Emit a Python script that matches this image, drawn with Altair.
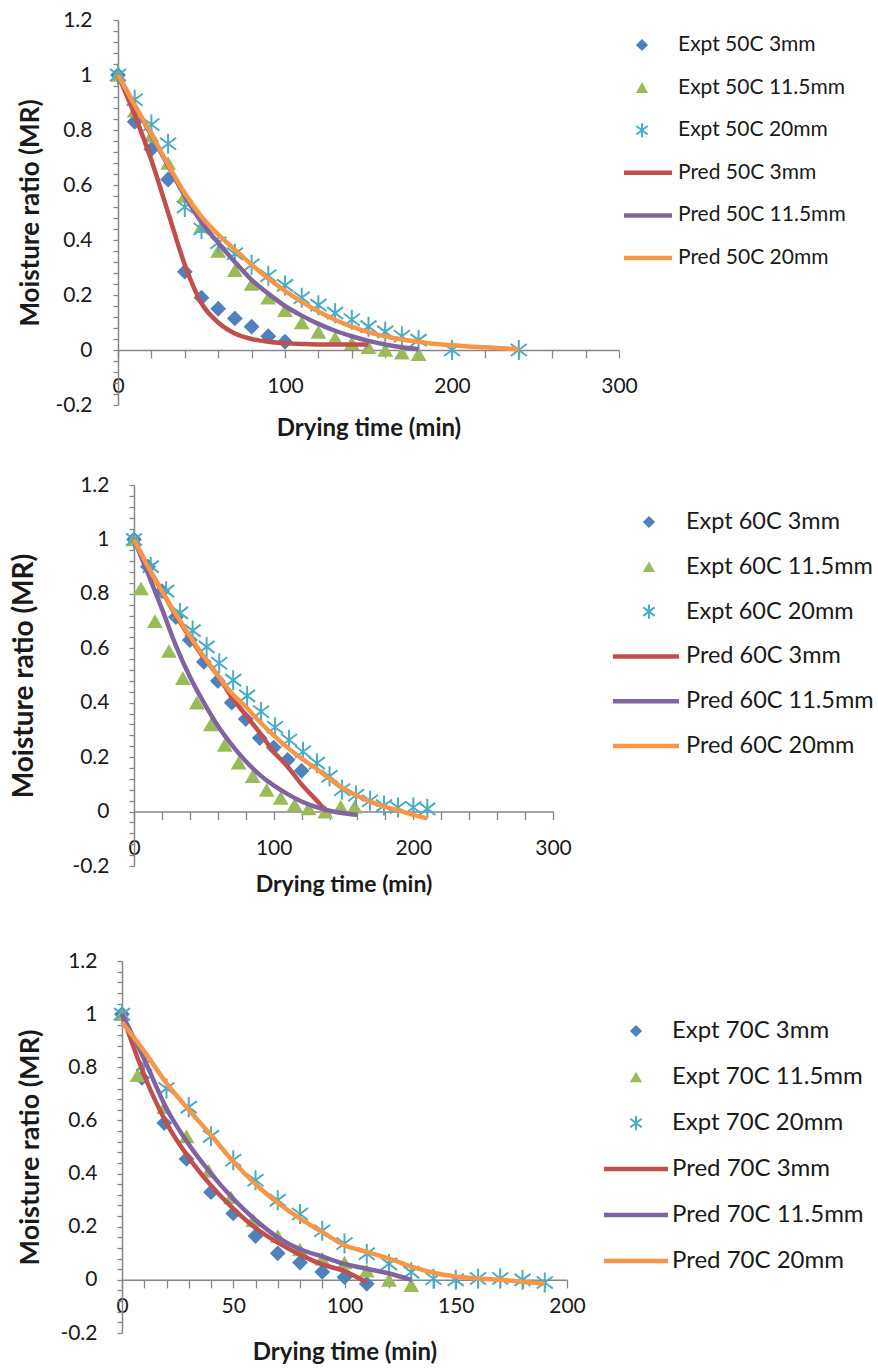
import altair as alt
import pandas as pd

FONT = "Lato"
TEXT = "#1a1a1a"
AXIS = "#868686"
C_BLUE = "#4F81BD"
C_GREEN = "#9BBB59"
C_AQUA = "#4BACC6"
C_RED = "#C0504D"
C_PURPLE = "#8064A2"
C_ORANGE = "#F79646"
ASTERISK = "M0,-1L0,1M-0.8,-0.6L0.8,0.6M-0.8,0.6L0.8,-0.6"

# ---------------- 50C ----------------
E50_3_T = [0, 10, 20, 30, 40, 50, 60, 70, 80, 90, 100]
E50_3_MR = [1.0, 0.83, 0.73, 0.62, 0.285, 0.19, 0.15, 0.115, 0.085, 0.05, 0.03]
E50_115_T = [0, 10, 20, 30, 40, 50, 60, 70, 80, 90, 100, 110, 120, 130, 140, 150, 160, 170, 180]
E50_115_MR = [1.0, 0.87, 0.78, 0.68, 0.56, 0.45, 0.36, 0.29, 0.24, 0.19, 0.145, 0.10, 0.066, 0.043,
              0.025, 0.01, 0.0, -0.01, -0.015]
E50_20_T = [0, 10, 20, 30, 40, 50, 60, 70, 80, 90, 100, 110, 120, 130, 140, 150, 160, 170, 180, 200, 240]
E50_20_MR = [1.0, 0.91, 0.82, 0.75, 0.52, 0.44, 0.39, 0.35, 0.31, 0.27, 0.235, 0.19, 0.163, 0.134, 0.11,
             0.085, 0.066, 0.05, 0.036, 0.0, 0.0]
P50_3_T = [0, 10, 20, 30, 40, 50, 60, 70, 80, 90, 100, 110, 120, 130, 140, 150]
P50_3_MR = [1.0, 0.855, 0.69, 0.50, 0.31, 0.17, 0.10, 0.06, 0.04, 0.03, 0.025, 0.022, 0.02, 0.02, 0.02, 0.02]
P50_115_T = [0, 10, 20, 30, 40, 50, 60, 70, 80, 90, 100, 110, 120, 130, 140, 150, 160, 170, 180]
P50_115_MR = [1.0, 0.89, 0.78, 0.67, 0.56, 0.465, 0.39, 0.32, 0.255, 0.205, 0.16, 0.125, 0.095, 0.07,
              0.05, 0.033, 0.02, 0.01, 0.003]
P50_20_T = [0, 10, 20, 30, 40, 50, 60, 70, 80, 90, 100, 110, 120, 130, 140, 150, 160, 170, 180, 190,
            200, 210, 220, 230, 240]
P50_20_MR = [1.0, 0.89, 0.785, 0.675, 0.57, 0.485, 0.42, 0.365, 0.31, 0.26, 0.215, 0.175, 0.14, 0.11,
             0.085, 0.065, 0.05, 0.038, 0.03, 0.022, 0.018, 0.013, 0.01, 0.006, 0.003]

# ---------------- 60C ----------------
E60_3_T = [0, 10, 20, 30, 40, 50, 60, 70, 80, 90, 100, 110, 120]
E60_3_MR = [1.0, 0.90, 0.81, 0.715, 0.63, 0.55, 0.48, 0.40, 0.34, 0.27, 0.235, 0.19, 0.15]
E60_115_T = [0, 5, 15, 25, 35, 45, 55, 65, 75, 85, 95, 105, 115, 125, 137, 148, 158]
E60_115_MR = [1.0, 0.82, 0.70, 0.59, 0.49, 0.40, 0.32, 0.245, 0.18, 0.13, 0.08, 0.05, 0.025, 0.012,
              0.0, 0.018, 0.018]
E60_20_T = [0, 12, 23, 33, 42, 52, 61, 71, 81, 91, 101, 111, 121, 131, 140, 149, 159, 169, 179, 189, 200, 210]
E60_20_MR = [1.0, 0.90, 0.81, 0.73, 0.665, 0.605, 0.545, 0.483, 0.425, 0.367, 0.31, 0.263, 0.22, 0.178,
             0.13, 0.08, 0.06, 0.04, 0.022, 0.015, 0.015, 0.01]
P60_3_T = [0, 10, 20, 30, 40, 50, 60, 70, 80, 90, 100, 110, 120, 130, 138]
P60_3_MR = [1.0, 0.90, 0.81, 0.72, 0.64, 0.565, 0.50, 0.42, 0.355, 0.29, 0.22, 0.165, 0.10, 0.045, 0.0]
P60_115_T = [0, 10, 20, 30, 40, 50, 60, 70, 80, 90, 100, 110, 120, 130, 140, 150, 160]
P60_115_MR = [1.0, 0.875, 0.745, 0.61, 0.495, 0.40, 0.315, 0.245, 0.185, 0.135, 0.096, 0.064, 0.037,
              0.017, 0.003, -0.006, -0.012]
P60_20_T = [0, 10, 20, 30, 40, 50, 60, 70, 80, 90, 100, 110, 120, 130, 140, 150, 160, 170, 180, 190, 200, 210]
P60_20_MR = [1.0, 0.90, 0.81, 0.725, 0.645, 0.57, 0.50, 0.435, 0.385, 0.33, 0.28, 0.235, 0.195, 0.16,
             0.12, 0.085, 0.057, 0.035, 0.017, 0.003, -0.012, -0.025]

# ---------------- 70C ----------------
E70_3_T = [0, 9, 19, 29, 40, 50, 60, 70, 80, 90, 100, 110]
E70_3_MR = [1.0, 0.76, 0.59, 0.455, 0.33, 0.25, 0.165, 0.10, 0.065, 0.03, 0.01, -0.015]
E70_115_T = [0, 7, 19, 29, 39, 49, 59, 70, 80, 90, 100, 110, 120, 130]
E70_115_MR = [1.0, 0.77, 0.65, 0.54, 0.41, 0.31, 0.225, 0.165, 0.115, 0.08, 0.065, 0.035, 0.0, -0.02]
E70_20_T = [0, 10, 20, 30, 40, 50, 60, 70, 80, 90, 100, 110, 120, 130, 140, 150, 160, 170, 180, 190]
E70_20_MR = [1.0, 0.81, 0.72, 0.65, 0.54, 0.45, 0.375, 0.30, 0.248, 0.185, 0.137, 0.098, 0.06, 0.029,
             0.004, 0.0, 0.005, 0.005, 0.0, -0.01]
P70_3_T = [0, 10, 20, 30, 40, 50, 60, 70, 80, 90, 100, 110]
P70_3_MR = [1.0, 0.77, 0.59, 0.46, 0.355, 0.268, 0.195, 0.14, 0.095, 0.058, 0.033, -0.01]
P70_115_T = [0, 10, 20, 30, 40, 50, 60, 70, 80, 90, 100, 110, 120, 130]
P70_115_MR = [1.0, 0.83, 0.645, 0.51, 0.40, 0.305, 0.225, 0.16, 0.115, 0.088, 0.06, 0.042, 0.024, 0.0]
P70_20_T = [0, 10, 20, 30, 40, 50, 60, 70, 80, 90, 100, 110, 120, 130, 140, 150, 160, 170, 180, 190]
P70_20_MR = [0.97, 0.86, 0.74, 0.64, 0.545, 0.445, 0.36, 0.29, 0.23, 0.18, 0.13, 0.105, 0.08, 0.05,
             0.027, 0.013, 0.005, 0.0, -0.007, -0.015]

SIZES = ["3mm", "11.5mm", "20mm"]
Y_TICKS = [round(-0.2 + 0.04 * i, 2) for i in range(36)]


def make_panel(temp, expt, pred, x_max, x_step, x_lab_step, W, H, st):
    names = [f"Expt {temp} {s}" for s in SIZES] + [f"Pred {temp} {s}" for s in SIZES]
    rows = []
    for nm, (T, M) in zip(names, expt + pred):
        for t, m in zip(T, M):
            rows.append({"t": t, "mr": m, "series": nm})
    df = pd.DataFrame(rows)

    x_axis = alt.Axis(
        values=list(range(0, x_max + 1, x_step)),
        labelExpr=f"datum.value % {x_lab_step} == 0 ? toString(datum.value) : ''",
        title="Drying time (min)", titleFont=FONT, titleFontSize=st["xt_fs"], titleFontWeight="bold",
        titleColor=TEXT, titleY=st["xt_y"], titleBaseline="middle",
        labelFont=FONT, labelFontSize=st["lab_fs"], labelColor=TEXT, labelPadding=st["xl_pad"],
        labelFlush=False, labelOverlap=False, tickSize=8, tickColor=AXIS, tickWidth=1.3,
        domainColor=AXIS, domainWidth=1.5, grid=False, offset=-H * 0.2 / 1.4,
    )
    y_axis = alt.Axis(
        values=Y_TICKS,
        labelExpr="abs(round(datum.value*100) % 20) == 0 ? toString(round(datum.value*10)/10) : ''",
        title="Moisture ratio (MR)", titleFont=FONT, titleFontSize=st["yt_fs"], titleFontWeight="bold",
        titleColor=TEXT, titleX=st["yt_x"], titleBaseline="middle",
        labelFont=FONT, labelFontSize=st["lab_fs"], labelColor=TEXT, labelPadding=st["yl_pad"],
        labelFlush=False, labelOverlap=False, tickSize=5, tickColor=AXIS, tickWidth=1.3,
        domainColor=AXIS, domainWidth=1.5, grid=False,
    )
    xe = alt.X("t:Q", scale=alt.Scale(domain=[0, x_max], nice=False, zero=False), axis=x_axis)
    ye = alt.Y("mr:Q", scale=alt.Scale(domain=[-0.2, 1.2], nice=False, zero=False), axis=y_axis)

    base = alt.Chart(df)
    layers = [
        base.transform_filter(alt.datum.series == names[0]).mark_point(
            shape="diamond", filled=True, color=C_BLUE, size=250, opacity=1).encode(x=xe, y=ye),
        base.transform_filter(alt.datum.series == names[1]).mark_point(
            shape="triangle-up", filled=True, color=C_GREEN, size=250, opacity=1).encode(x=xe, y=ye),
        base.transform_filter(alt.datum.series == names[2]).mark_point(
            shape=ASTERISK, filled=False, color=C_AQUA, size=400, strokeWidth=2, opacity=1).encode(x=xe, y=ye),
    ]
    for nm, col in zip(names[3:], [C_RED, C_PURPLE, C_ORANGE]):
        layers.append(base.transform_filter(alt.datum.series == nm).mark_line(
            color=col, strokeWidth=4.5, interpolate="monotone").encode(x=xe, y=ye))
    main = alt.layer(*layers)

    leg_df = pd.DataFrame({"idx": list(range(6)), "name": names})
    ly = alt.Y("idx:Q", scale=alt.Scale(domain=[0, 5], range=st["leg_y"], nice=False, zero=False), axis=None)
    lb = alt.Chart(leg_df)
    mx, la, lbx, tx = st["leg_x"]
    leg_layers = [
        lb.transform_filter(alt.datum.idx == 0).mark_point(
            shape="diamond", filled=True, color=C_BLUE, size=150, opacity=1).encode(x=alt.value(mx), y=ly),
        lb.transform_filter(alt.datum.idx == 1).mark_point(
            shape="triangle-up", filled=True, color=C_GREEN, size=150, opacity=1).encode(x=alt.value(mx), y=ly),
        lb.transform_filter(alt.datum.idx == 2).mark_point(
            shape=ASTERISK, filled=False, color=C_AQUA, size=200, strokeWidth=2, opacity=1).encode(x=alt.value(mx), y=ly),
    ]
    for i, col in zip([3, 4, 5], [C_RED, C_PURPLE, C_ORANGE]):
        leg_layers.append(lb.transform_filter(alt.datum.idx == i).mark_rule(
            color=col, strokeWidth=4.5).encode(x=alt.value(la), x2=alt.value(lbx), y=ly))
    leg_layers.append(lb.mark_text(align="left", baseline="middle", font=FONT, fontSize=st["leg_fs"],
                                   color=TEXT).encode(x=alt.value(tx), y=ly, text="name:N"))
    leg = alt.layer(*leg_layers)

    panel = alt.layer(main, leg).resolve_scale(y="independent").properties(width=W, height=H)
    # empty left margin so that each panel keeps its own left offset
    spacer = alt.Chart(pd.DataFrame({"a": [0]})).mark_point(opacity=0, size=0).encode(
        x=alt.value(0), y=alt.value(0)).properties(width=st["margin"], height=1)
    return alt.hconcat(spacer, panel, spacing=0)


p1 = make_panel("50C", [(E50_3_T, E50_3_MR), (E50_115_T, E50_115_MR), (E50_20_T, E50_20_MR)],
                [(P50_3_T, P50_3_MR), (P50_115_T, P50_115_MR), (P50_20_T, P50_20_MR)],
                300, 20, 100, 501, 385,
                dict(xt_fs=24, xt_y=78, xl_pad=17, lab_fs=21, yt_fs=26, yt_x=-88, yl_pad=21,
                     leg_y=[25, 238], leg_x=(524, 506, 554, 560), leg_fs=21, margin=12))
p2 = make_panel("60C", [(E60_3_T, E60_3_MR), (E60_115_T, E60_115_MR), (E60_20_T, E60_20_MR)],
                [(P60_3_T, P60_3_MR), (P60_115_T, P60_115_MR), (P60_20_T, P60_20_MR)],
                300, 20, 100, 419, 381,
                dict(xt_fs=23, xt_y=73, xl_pad=18, lab_fs=21, yt_fs=28, yt_x=-110, yl_pad=20,
                     leg_y=[37, 261], leg_x=(515, 479, 545, 552), leg_fs=23.5, margin=4))
p3 = make_panel("70C", [(E70_3_T, E70_3_MR), (E70_115_T, E70_115_MR), (E70_20_T, E70_20_MR)],
                [(P70_3_T, P70_3_MR), (P70_115_T, P70_115_MR), (P70_20_T, P70_20_MR)],
                200, 10, 50, 445, 372,
                dict(xt_fs=24, xt_y=73, xl_pad=8, lab_fs=21, yt_fs=27, yt_x=-92, yl_pad=20,
                     leg_y=[70, 300], leg_x=(514, 482, 546, 550), leg_fs=24, margin=11))

top = alt.vconcat(p1, p2, spacing=34)
chart = alt.vconcat(top, p3, spacing=53).properties(
    padding={"left": 5, "top": 9, "right": 0, "bottom": 0},
    background="white",
).configure_view(stroke=None)

chart.save("out.html", embed_options={"renderer": "svg", "actions": False})
